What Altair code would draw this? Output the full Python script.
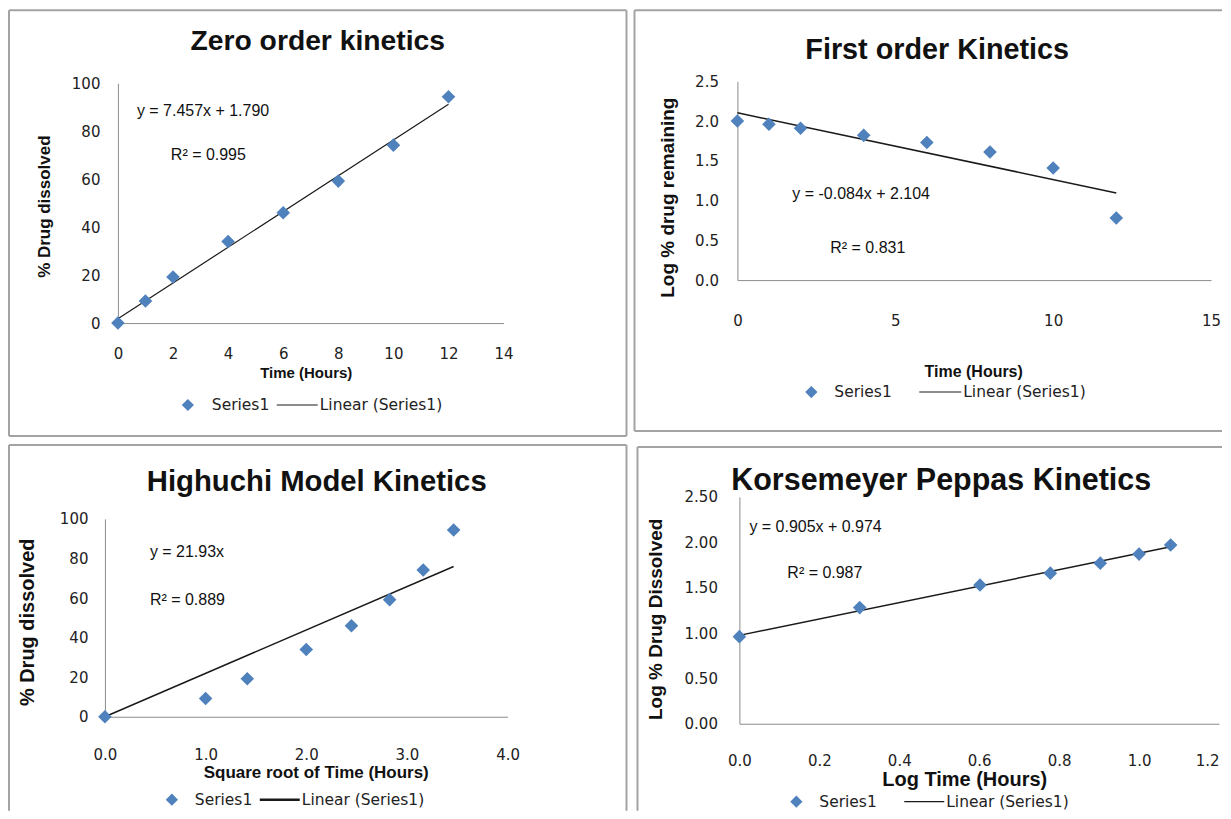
import altair as alt
import pandas as pd

# ---------------- data ----------------
time_hours = [0, 1, 2, 4, 6, 8, 10, 12]
pct_dissolved = [0.0, 9.2, 19.2, 34.0, 46.0, 59.2, 74.2, 94.4]
log_pct_remaining = [2.00, 1.96, 1.91, 1.82, 1.73, 1.61, 1.41, 0.78]
sqrt_time = [0.0, 1.0, 1.414, 2.0, 2.449, 2.828, 3.162, 3.464]
log_time = [0.0, 0.301, 0.602, 0.778, 0.903, 1.0, 1.079]
log_pct_dissolved = [0.96, 1.28, 1.53, 1.66, 1.77, 1.87, 1.97]

titles = ["Zero order kinetics", "First order Kinetics",
          "Highuchi Model Kinetics", "Korsemeyer Peppas Kinetics"]
x_titles = ["Time (Hours)", "Time (Hours)",
            "Square root of Time (Hours)", "Log Time (Hours)"]
y_titles = ["% Drug dissolved", "Log %  drug remaining",
            "% Drug  dissolved", "Log %  Drug  Dissolved"]
equations = ["y = 7.457x + 1.790", "y = -0.084x + 2.104",
             "y = 21.93x", "y = 0.905x  + 0.974"]
r2_texts = ["R² = 0.995", "R² = 0.831", "R² = 0.889", "R² = 0.987"]
slopes = [7.457, -0.084, 21.93, 0.905]
intercepts = [1.790, 2.104, 0.0, 0.974]

x_ticks = [[0, 2, 4, 6, 8, 10, 12, 14], [0, 5, 10, 15],
           [0, 1, 2, 3, 4], [0, 0.2, 0.4, 0.6, 0.8, 1.0, 1.2]]
y_ticks = [[0, 20, 40, 60, 80, 100], [0, 0.5, 1.0, 1.5, 2.0, 2.5],
           [0, 20, 40, 60, 80, 100], [0, 0.5, 1.0, 1.5, 2.0, 2.5]]

BLUE = "#4F81BD"
BORDER = "#a3a3a3"
AXIS = "#8c8c8c"
TITLE_FONT = "Liberation Sans, Arial, sans-serif"
LABEL_FONT = "DejaVu Sans, Verdana, sans-serif"
EQ_FONT = "Liberation Sans, Arial, sans-serif"
BOLD_FONT = "Liberation Sans, Arial, sans-serif"

one = pd.DataFrame({"k": [0]})


def rule(x1, x2, y1, y2, color=BORDER, width=2):
    return alt.Chart(one).mark_rule(color=color, strokeWidth=width).encode(
        x=alt.value(x1), x2=alt.value(x2), y=alt.value(y1), y2=alt.value(y2))


def text(label, x, y, font, size, weight="normal", align="left", color="#111"):
    return alt.Chart(one).mark_text(
        text=label, font=font, fontSize=size, fontWeight=weight,
        align=align, baseline="middle", color=color).encode(
        x=alt.value(x), y=alt.value(y))


def panel(i, xs, ys, W, H, xdom, xr, ydom, yr, xfmt, yfmt, lay):
    pts = pd.DataFrame({"x": xs, "y": ys})
    xmax = max(xs)
    fit = pd.DataFrame({"x": [0.0, xmax],
                        "y": [intercepts[i], slopes[i] * xmax + intercepts[i]]})
    xsc = alt.Scale(domain=xdom, range=xr, nice=False, zero=False)
    ysc = alt.Scale(domain=ydom, range=yr, nice=False, zero=False)
    label_align = "center"
    if lay.get("flush_last"):
        label_align = {"condition": {"test": f"datum.value >= {xdom[1]}", "value": "right"},
                       "value": "center"}
    xaxis = alt.Axis(values=x_ticks[i], format=xfmt, offset=yr[0] - H,
                     domainColor=AXIS, domainWidth=1, ticks=False, tickSize=0,
                     grid=False, labelFont=LABEL_FONT, labelFontSize=lay["lfs"],
                     labelColor="#222", labelPadding=lay["xlp"], labelAngle=0,
                     labelAlign=label_align, labelOverlap=False,
                     title=x_titles[i], titleFont=BOLD_FONT,
                     titleFontSize=lay["xtfs"], titleFontWeight="bold",
                     titleColor="#111", titleX=lay["xtx"], titleY=lay["xty"],
                     titleAlign="center", titleBaseline="middle")
    yaxis = alt.Axis(values=y_ticks[i], format=yfmt, offset=-xr[0],
                     domainColor=AXIS, domainWidth=1, ticks=False, tickSize=0,
                     grid=False, labelFont=LABEL_FONT, labelFontSize=lay["lfs"],
                     labelColor="#222", labelPadding=lay["ylp"],
                     labelOverlap=False,
                     title=y_titles[i], titleFont=BOLD_FONT,
                     titleFontSize=lay["ytfs"], titleFontWeight="bold",
                     titleColor="#111", titleX=lay["ytx"], titleY=lay["yty"],
                     titleAlign="center", titleBaseline="middle", titleAngle=270)

    line = alt.Chart(fit).mark_line(color="#1a1a1a", strokeWidth=lay["lw"]).encode(
        x=alt.X("x:Q", scale=xsc, axis=xaxis),
        y=alt.Y("y:Q", scale=ysc, axis=yaxis))
    points = alt.Chart(pts).mark_point(shape="diamond", filled=True, opacity=1,
                                       color=BLUE, size=185).encode(
        x=alt.X("x:Q", scale=xsc), y=alt.Y("y:Q", scale=ysc))

    layers = [line, points]
    for seg in lay["border"]:
        layers.append(rule(*seg))
    layers.append(text(titles[i], lay["tx"], lay["ty"], TITLE_FONT, lay["tfs"], "bold", "center"))
    layers.append(text(equations[i], lay["ex"], lay["ey"], EQ_FONT, 16))
    layers.append(text(r2_texts[i], lay["rx"], lay["ry"], EQ_FONT, 16))
    lx, ly = lay["leg"]
    layers.append(alt.Chart(one).mark_point(shape="diamond", filled=True, opacity=1,
                                            color=BLUE, size=150).encode(
        x=alt.value(lx), y=alt.value(ly)))
    layers.append(text("Series1", lay["sx"], ly, LABEL_FONT, 15.5, color="#222"))
    l1, l2 = lay["legline"]
    layers.append(rule(l1, l2, ly, ly, color="#1a1a1a", width=lay["legw"]))
    layers.append(text("Linear (Series1)", l2 + 2, ly, LABEL_FONT, 15.5, color="#222"))

    return alt.layer(*layers).properties(width=W, height=H)


# panel views (local pixel coordinates inside each view)
tl = panel(0, time_hours, pct_dissolved, 623, 430, [0, 14], [110, 496], [0, 100], [315, 75],
           "d", "d",
           dict(lfs=15, xlp=23, ylp=18, xtfs=15, ytfs=17, xtx=298, xty=49, ytx=-73, yty=198,
                lw=1.2, tx=310, ty=34, tfs=28.3, ex=129, ey=103, rx=163, ry=147,
                leg=(180, 397), sx=204, legline=(269, 310), legw=1.2,
                border=[(1, 619, 2, 2), (1, 619, 428, 428), (1, 1, 2, 428), (619, 619, 2, 428)]))

tr = panel(1, time_hours, log_pct_remaining, 592, 430, [0, 15], [107, 581], [0, 2.5], [272, 73],
           "d", ".1f",
           dict(lfs=15, xlp=33, ylp=19, xtfs=16, ytfs=19, xtx=343, xty=91, ytx=-70, yty=189,
                lw=1.5, tx=307, ty=42, tfs=28.8, ex=162, ey=186, rx=200, ry=240,
                leg=(181, 384), sx=204, legline=(289, 331), legw=1.2,
                border=[(4, 592, 2, 2), (4, 592, 423, 423), (4, 4, 2, 423)]))

bl = panel(2, sqrt_time, pct_dissolved, 623, 373, [0, 4], [97, 500], [0, 100], [279, 81],
           ".1f", "d",
           dict(lfs=15, xlp=31, ylp=17, xtfs=17, ytfs=20, xtx=308, xty=56, ytx=-77, yty=184,
                lw=1.5, tx=309, ty=44, tfs=29.3, ex=142, ey=114, rx=142, ry=162,
                leg=(164, 362), sx=187, legline=(252, 292), legw=2.5,
                border=[(1, 619, 7, 7), (1, 1, 7, 373), (619, 619, 7, 373)]))

br = panel(3, log_time, log_pct_dissolved, 592, 373, [0, 1.2], [109, 589], [0, 2.5], [286, 59],
           ".1f", ".2f",
           dict(lfs=15, xlp=30, ylp=22, xtfs=20, ytfs=19, xtx=334, xty=56, ytx=-84, yty=181,
                lw=1.5, tx=311, ty=43, tfs=30.5, ex=119, ey=89, rx=157, ry=135,
                leg=(166, 364), sx=189, legline=(274, 314), legw=1.2, flush_last=True,
                border=[(7, 592, 9, 9), (7, 7, 9, 373)]))

row1 = alt.hconcat(tl, tr, spacing=0)
row2 = alt.hconcat(bl, br, spacing=0)
chart = alt.vconcat(row1, row2, spacing=0).properties(
    padding={"left": 0, "top": 0, "right": 0, "bottom": 0},
    background="white",
).configure_view(strokeWidth=0)

chart.save("out.html", embed_options={"renderer": "svg", "actions": False})
